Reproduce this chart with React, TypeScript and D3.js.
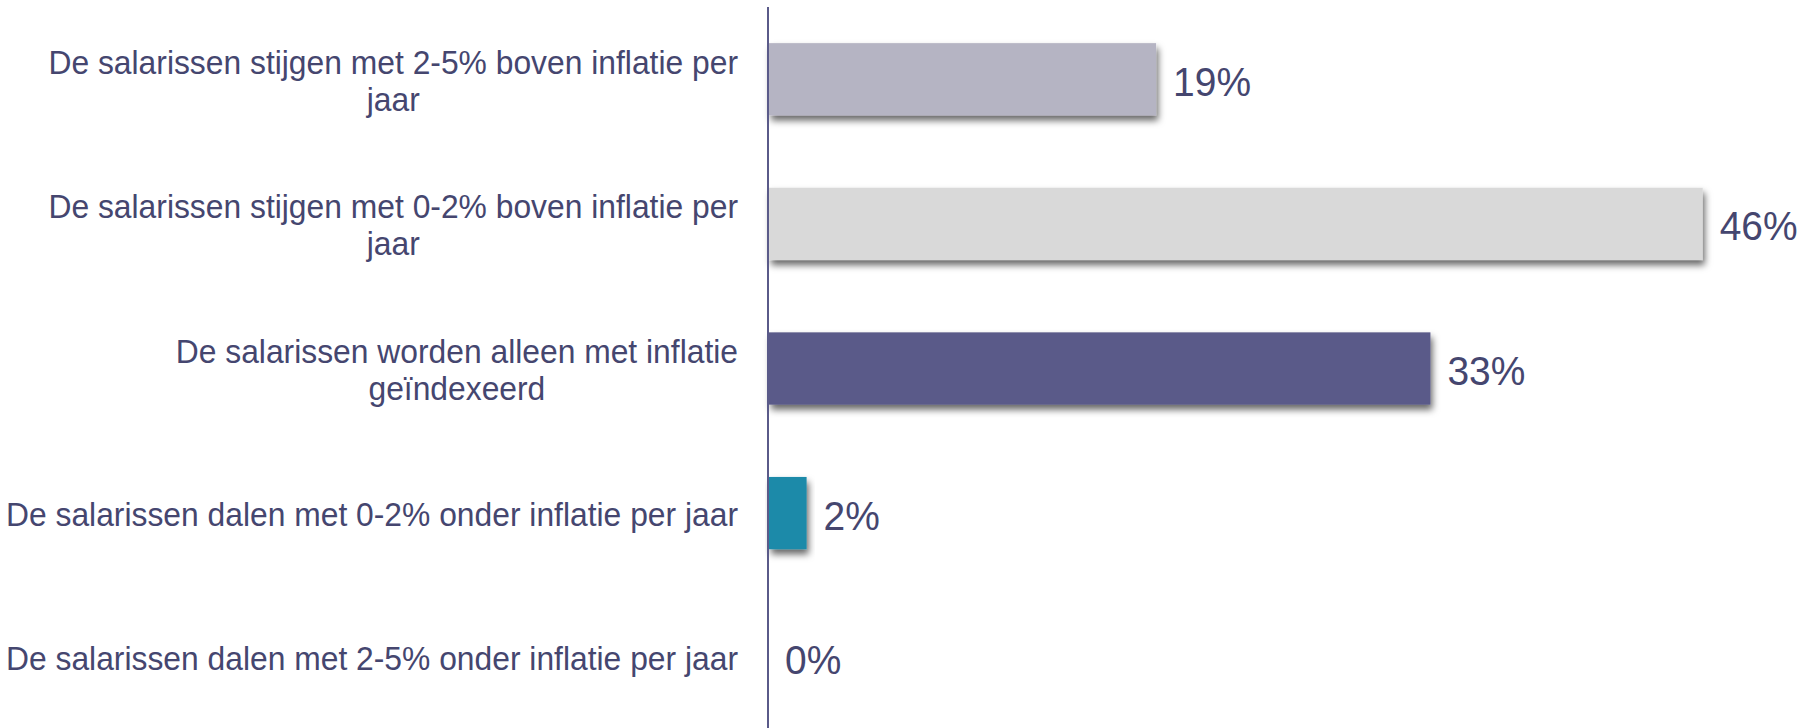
import React, { useEffect, useRef } from 'react';
import * as d3 from 'd3';

// survey answers, top to bottom
const categories = [
  'De salarissen stijgen met 2-5% boven inflatie per jaar',
  'De salarissen stijgen met 0-2% boven inflatie per jaar',
  'De salarissen worden alleen met inflatie geïndexeerd',
  'De salarissen dalen met 0-2% onder inflatie per jaar',
  'De salarissen dalen met 2-5% onder inflatie per jaar',
];
const values = [19.1, 46.0, 32.6, 1.9, 0];
const valueLabels = ['19%', '46%', '33%', '2%', '0%'];
const barColors = ['#b5b4c3', '#d9d9d9', '#5a5a89', '#1f8aa9', '#b5b4c3'];

export default function App() {
  const svgRef = useRef<SVGSVGElement>(null);

  useEffect(() => {
    const svg = d3.select(svgRef.current);
    svg.selectAll('*').remove();

    const width = 1804;
    const height = 728;
    const axisX = 768;
    const textColor = '#45466f';
    const squeeze = 0.95; // the source text is a little narrow

    const x = d3.scaleLinear().domain([0, 50]).range([axisX, axisX + 50 * 20.32]);
    const y = d3.scaleBand<string>()
      .domain(categories)
      .range([7, 730])
      .paddingInner(0.5)
      .paddingOuter(0.25);

    const defs = svg.append('defs');
    const f = defs.append('filter').attr('id', 'shadow')
      .attr('x', '-10%').attr('y', '-20%').attr('width', '130%').attr('height', '160%');
    f.append('feDropShadow')
      .attr('dx', 2).attr('dy', 5).attr('stdDeviation', 3.5)
      .attr('flood-color', '#000').attr('flood-opacity', 0.6);

    // bars
    svg.append('g')
      .selectAll('rect')
      .data(categories.filter((_, i) => values[i] > 0))
      .join('rect')
      .attr('x', x(0) + 1)
      .attr('y', d => y(d)!)
      .attr('width', d => x(values[categories.indexOf(d)]) - x(0) - 1)
      .attr('height', y.bandwidth())
      .attr('fill', d => barColors[categories.indexOf(d)])
      .attr('filter', 'url(#shadow)');

    // value labels
    svg.append('g')
      .selectAll('text')
      .data(categories)
      .join('text')
      .attr('transform', (d, i) =>
        `translate(${x(values[i]) + 17},${y(d)! + y.bandwidth() / 2}) scale(${squeeze},1)`)
      .attr('dy', '0.4em')
      .attr('font-family', 'Liberation Sans, Arial, sans-serif')
      .attr('font-size', 41)
      .attr('fill', textColor)
      .text((d, i) => valueLabels[i]);

    // category labels, wrapped and centred like PowerPoint does
    const maxW = 745;
    const rightEdge = 738;
    const lh = 37;
    const labelG = svg.append('g')
      .attr('transform', `translate(${rightEdge},0) scale(${squeeze},1)`)
      .attr('font-family', 'Liberation Sans, Arial, sans-serif')
      .attr('font-size', 33.5)
      .attr('fill', textColor);

    categories.forEach(cat => {
      const t = labelG.append('text').attr('text-anchor', 'middle');
      const probe = t.append('tspan');
      const measure = (s: string) => {
        probe.text(s);
        return (probe.node() as SVGTSpanElement).getComputedTextLength() * squeeze;
      };
      const words = cat.split(' ');
      const lines: string[] = [];
      let cur: string[] = [];
      words.forEach(w => {
        if (cur.length && measure([...cur, w].join(' ')) > maxW) {
          lines.push(cur.join(' '));
          cur = [w];
        } else {
          cur.push(w);
        }
      });
      lines.push(cur.join(' '));
      const widest = d3.max(lines, l => measure(l)) || 0;
      probe.remove();
      const cx = -widest / 2 / squeeze;
      const cy = y(cat)! + y.bandwidth() / 2;
      lines.forEach((l, i) => {
        t.append('tspan')
          .attr('x', cx)
          .attr('y', cy + (i - (lines.length - 1) / 2) * lh)
          .attr('dy', '0.38em')
          .text(l);
      });
    });

    // vertical axis line
    svg.append('line')
      .attr('x1', axisX).attr('x2', axisX)
      .attr('y1', 7).attr('y2', height)
      .attr('stroke', '#5a5a89')
      .attr('stroke-width', 2);

    svg.attr('width', width).attr('height', height);
  }, []);

  return (
    <svg
      ref={svgRef}
      width={1804}
      height={728}
      style={{ position: 'absolute', left: 0, top: 0, background: 'white' }}
    />
  );
}
